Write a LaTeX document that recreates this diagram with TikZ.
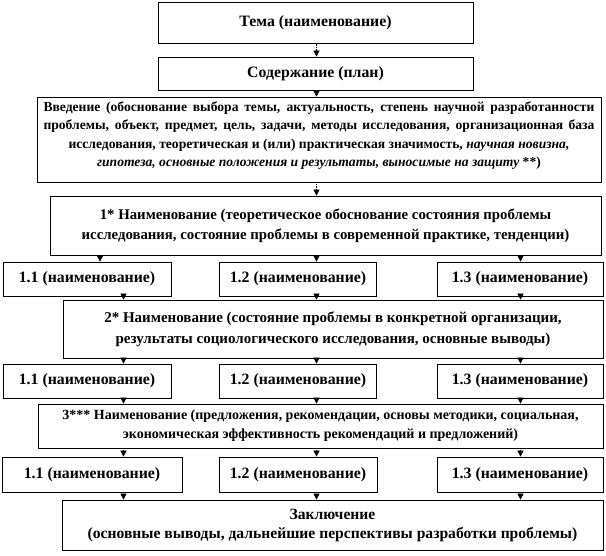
\documentclass[tikz,border=0pt]{standalone}
\usepackage{fontspec}
\setmainfont{Liberation Serif}
\usetikzlibrary{arrows.meta}
\tikzset{
  box/.style={draw=black, line width=0.7pt, rectangle, inner sep=0pt, align=center,
    font=\fontsize{15.8}{19}\selectfont\bfseries},
  arr/.style={draw=black, line width=0.6pt, densely dotted, -{Triangle[width=6pt,length=6pt,fill=black]}},
}
\begin{document}
\begin{tikzpicture}[x=1pt,y=-1pt]
\useasboundingbox (0,0) rectangle (606,556);
% top
\node[box, minimum width=315pt, minimum height=41pt] (tema) at (315.5,23) {Тема (наименование)};
\node[box, minimum width=315pt, minimum height=33pt] (soder) at (315.5,73.5) {Содержание (план)};
\node[box, minimum width=564pt, minimum height=85pt] (vved) at (319,139.5) {};
\node[font=\fontsize{13.6}{18.3}\selectfont\bfseries, align=center, inner sep=0pt] (vvedt) at (319,135.5) {%
\makebox[551pt][s]{Введение (обоснование выбора темы, актуальность, степень научной разработанности}\\
\makebox[551pt][s]{проблемы, объект, предмет, цель, задачи, методы исследования, организационная база}\\
исследования, теоретическая и (или) практическая значимость, \textit{научная новизна,}\\
\textit{гипотеза, основные положения и результаты, выносимые на защиту} **)};
\node[box, font=\fontsize{14.8}{20}\selectfont\bfseries, minimum width=551pt, minimum height=59pt] (p1) at (325.5,225.5) {1* Наименование (теоретическое обоснование состояния проблемы\\исследования, состояние проблемы в современной практике, тенденции)};
% row 1
\node[box, minimum width=168pt, minimum height=34pt] (r1a) at (87,279) {1.1 (наименование)};
\node[box, minimum width=157pt, minimum height=34pt] (r1b) at (298,279) {1.2 (наименование)};
\node[box, minimum width=166pt, minimum height=34pt] (r1c) at (520,279) {1.3 (наименование)};
\node[box, font=\fontsize{15}{21}\selectfont\bfseries, minimum width=540pt, minimum height=58pt] (p2) at (333,329) {2* Наименование (состояние проблемы в конкретной организации,\\результаты социологического исследования, основные выводы)};
% row 2
\node[box, minimum width=168pt, minimum height=34pt] (r2a) at (87,381) {1.1 (наименование)};
\node[box, minimum width=157pt, minimum height=34pt] (r2b) at (298,381) {1.2 (наименование)};
\node[box, minimum width=166pt, minimum height=34pt] (r2c) at (520,381) {1.3 (наименование)};
\node[box, font=\fontsize{14}{19}\selectfont\bfseries, minimum width=565pt, minimum height=44pt] (p3) at (320.5,426) {3*** Наименование (предложения, рекомендации, основы методики, социальная,\\экономическая эффективность рекомендаций и предложений)};
% row 3
\node[box, minimum width=180pt, minimum height=35pt] (r3a) at (92,474.5) {1.1 (наименование)};
\node[box, minimum width=158pt, minimum height=35pt] (r3b) at (298,474.5) {1.2 (наименование)};
\node[box, minimum width=166pt, minimum height=35pt] (r3c) at (520,474.5) {1.3 (наименование)};
\node[box, font=\fontsize{15.6}{19}\selectfont\bfseries, minimum width=541pt, minimum height=50pt] (concl) at (332.5,525) {Заключение\\(основные выводы, дальнейшие перспективы разработки проблемы)};
% columns
\coordinate (xa) at (100,0);
\coordinate (xb) at (123.5,0);
\coordinate (xm) at (316.5,0);
\coordinate (xr) at (520.5,0);
% arrows
\draw[arr] (tema.south -| xm) -- (soder.north -| xm);
\draw[arr] (soder.south -| xm) -- (vved.north -| xm);
\draw[arr] (vved.south -| xm) -- (p1.north -| xm);
\draw[arr] (p1.south -| xa) -- (r1a.north -| xa);
\draw[arr] (p1.south -| xm) -- (r1b.north -| xm);
\draw[arr] (p1.south -| xr) -- (r1c.north -| xr);
\draw[arr] (r1a.south -| xb) -- (p2.north -| xb);
\draw[arr] (r1b.south -| xm) -- (p2.north -| xm);
\draw[arr] (r1c.south -| xr) -- (p2.north -| xr);
\draw[arr] (p2.south -| xb) -- (r2a.north -| xb);
\draw[arr] (p2.south -| xm) -- (r2b.north -| xm);
\draw[arr] (p2.south -| xr) -- (r2c.north -| xr);
\draw[arr] (r2a.south -| xb) -- (p3.north -| xb);
\draw[arr] (r2b.south -| xm) -- (p3.north -| xm);
\draw[arr] (r2c.south -| xr) -- (p3.north -| xr);
\draw[arr] (p3.south -| xb) -- (r3a.north -| xb);
\draw[arr] (p3.south -| xm) -- (r3b.north -| xm);
\draw[arr] (p3.south -| xr) -- (r3c.north -| xr);
\draw[arr] (r3a.south -| xb) -- (concl.north -| xb);
\draw[arr] (r3b.south -| xm) -- (concl.north -| xm);
\draw[arr] (r3c.south -| xr) -- (concl.north -| xr);
\end{tikzpicture}
\end{document}
